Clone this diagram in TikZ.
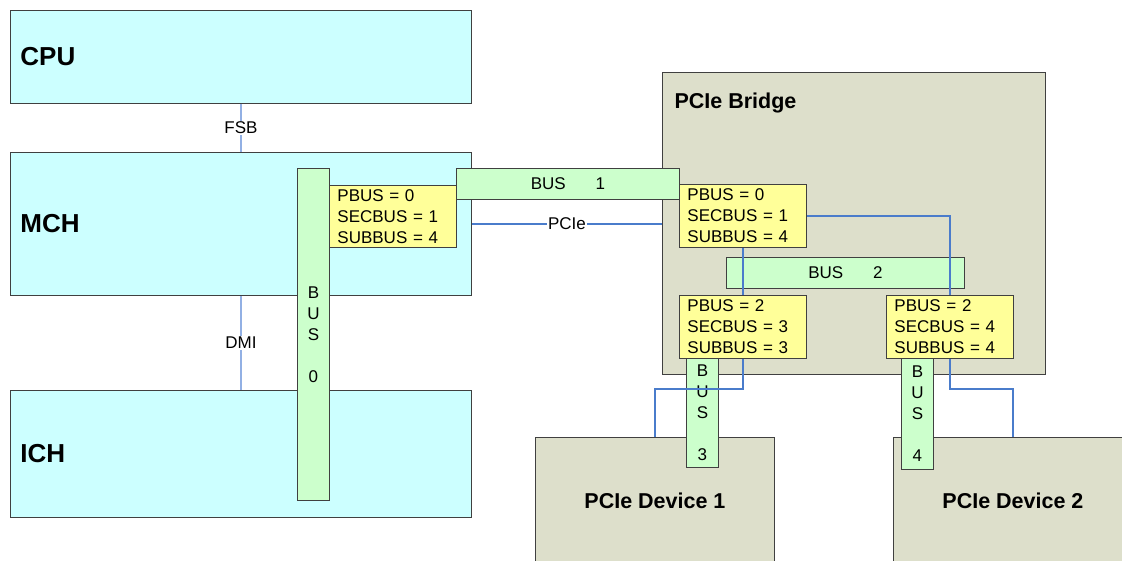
\documentclass[tikz,border=0pt]{standalone}
\usepackage{fontspec}
\setmainfont{Liberation Sans}
\usetikzlibrary{positioning}
\definecolor{hostcyan}{HTML}{CCFFFF}
\definecolor{bridgegray}{HTML}{DDDFCB}
\definecolor{busgreen}{HTML}{CCFFCC}
\definecolor{regyellow}{HTML}{FFFF99}
\definecolor{edgegray}{HTML}{404040}
\definecolor{linkblue}{HTML}{4A7CCB}
\definecolor{hostblue}{HTML}{92B0E4}

\begin{document}
\begin{tikzpicture}[x=1pt,y=-1pt,
    box/.style={draw=edgegray,line width=0.9pt,anchor=north west,inner sep=0pt},
    chip/.style={box,fill=hostcyan,minimum width=461,text width=441,inner xsep=10pt,align=left,
                 font=\fontsize{26}{30}\selectfont\bfseries},
    device/.style={box,fill=bridgegray,minimum width=239,minimum height=126,
                   font=\fontsize{21.5}{26}\selectfont\bfseries},
    regs/.style={box,fill=regyellow,minimum width=127,minimum height=63,text width=111,inner xsep=8pt,
                 align=left,font=\fontsize{17}{21}\selectfont},
    bus/.style={box,fill=busgreen,align=center,font=\fontsize{17}{21}\selectfont},
    tag/.style={fill=white,inner sep=1pt,font=\fontsize{17}{21}\selectfont},
    hostlink/.style={draw=hostblue,line width=1.4pt},
    link/.style={draw=linkblue,line width=1.2pt}]
    \useasboundingbox (0,0) rectangle (1122,561);

    % host side
    \node[chip,minimum height=93] (cpu) at (10,10) {CPU};
    \node[chip,minimum height=143] (mch) at (10,152) {MCH};
    \node[chip,minimum height=127] (ich) at (10,390) {ICH};

    % bridge and end points
    \node[box,fill=bridgegray,minimum width=383,minimum height=302] (bridge) at (662,72) {};
    \node[anchor=west,font=\fontsize{21.5}{26}\selectfont\bfseries] (bridgetxt) at (671,103) {PCIe Bridge};
    \node[device] (dev1) at (535,437) {PCIe Device 1};
    \node[device] (dev2) at (893,437) {PCIe Device 2};

    % host links
    \draw[hostlink] (cpu.south) -- node[tag] {FSB} (mch.north);
    \draw[hostlink] (mch.south) -- node[tag] {DMI} (ich.north);
    \draw[link] (mch.east) -- node[tag] {PCIe} (mch.east -| bridge.west);

    % buses
    \node[bus,minimum width=32,minimum height=332] (bus0) at (297,168) {B\\U\\S\\\mbox{}\\0};
    \node[bus,minimum width=223,minimum height=31] (bus1) at (456,168) {BUS\hspace{30pt}1};
    \node[bus,minimum width=238,minimum height=31] (bus2) at (726,257) {BUS\hspace{30pt}2};
    \node[bus,minimum width=32,minimum height=109] (bus3) at (686,358) {B\\U\\S\\\mbox{}\\3};
    \node[bus,minimum width=32,minimum height=111] (bus4) at (901,358) {B\\U\\S\\\mbox{}\\4};

    % bus number registers
    \node[regs,minimum height=62] (regmch) at (329,185) {PBUS = 0\\SECBUS = 1\\SUBBUS = 4};
    \node[regs] (regup) at (679,184) {PBUS = 0\\SECBUS = 1\\SUBBUS = 4};
    \node[regs] (regleft) at (679,295) {PBUS = 2\\SECBUS = 3\\SUBBUS = 3};
    \node[regs] (regright) at (886,295) {PBUS = 2\\SECBUS = 4\\SUBBUS = 4};

    % links inside the bridge
    \draw[link] (regup.south) -- (regleft.north);
    \draw[link] (regup.east) -| (regright.north);
    \draw[link] (regleft.south) -- ++(0,30) -| (dev1.north);
    \draw[link] (regright.south) -- ++(0,30) -| (dev2.north);
\end{tikzpicture}
\end{document}
